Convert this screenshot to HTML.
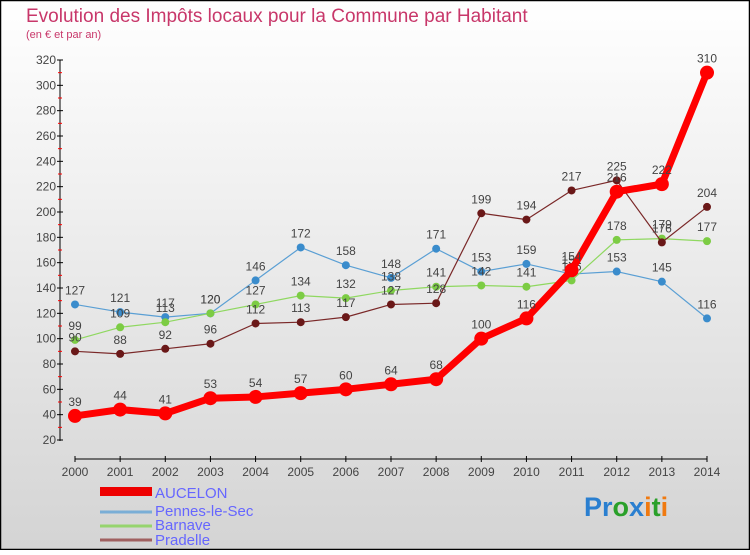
<!DOCTYPE html>
<html><head><meta charset="utf-8"><style>
html,body{margin:0;padding:0}
body{width:750px;height:550px;overflow:hidden;font-family:"Liberation Sans",sans-serif}
</style></head><body>
<svg id="chart" width="750" height="550" xmlns="http://www.w3.org/2000/svg">
<defs><linearGradient id="bg" x1="0" y1="0" x2="0" y2="1"><stop offset="0" stop-color="#ffffff"/><stop offset="1" stop-color="#d4d4d4"/></linearGradient></defs>
<rect x="0.5" y="0.5" width="749" height="549" fill="url(#bg)" stroke="#000" stroke-width="1.5"/>
<text x="26" y="22" font-size="19" fill="#c8376a">Evolution des Impôts locaux pour la Commune par Habitant</text>
<text x="26" y="38" font-size="11" fill="#c8376a">(en € et par an)</text>
<g id="axes"></g><g id="series"></g>
<g font-size="15" fill="#6666ff">
<rect x="100" y="487" width="52" height="9" fill="#ee0000"/>
<text x="155" y="498">AUCELON</text>
<line x1="100" y1="512" x2="152" y2="512" stroke="#7aaed6" stroke-width="3"/>
<text x="155" y="516">Pennes-le-Sec</text>
<line x1="100" y1="526" x2="152" y2="526" stroke="#96d46e" stroke-width="3"/>
<text x="155" y="530">Barnave</text>
<line x1="100" y1="540" x2="152" y2="540" stroke="#a06060" stroke-width="3"/>
<text x="155" y="545">Pradelle</text>
</g>
<g font-size="27" font-weight="bold" font-family="'Liberation Sans',sans-serif">
<text x="584" y="516"><tspan fill="#2a7fd0">Pr</tspan><tspan fill="#2aa02a">o</tspan><tspan fill="#2a7fd0">x</tspan><tspan fill="#f07a10">i</tspan><tspan fill="#2aa02a">t</tspan><tspan fill="#f07a10">i</tspan></text>
</g>
</svg>
<script>
const years=[2000,2001,2002,2003,2004,2005,2006,2007,2008,2009,2010,2011,2012,2013,2014];
const yTicks=[20,40,60,80,100,120,140,160,180,200,220,240,260,280,300,320];
const aucelon=[39,44,41,53,54,57,60,64,68,100,116,154,216,222,310];
const pennes=[127,121,117,120,146,172,158,148,171,153,159,151,153,145,116];
const barnave=[99,109,113,120,127,134,132,138,141,142,141,146,178,179,177];
const pradelle=[90,88,92,96,112,113,117,127,128,199,194,217,225,176,204];
const NS="http://www.w3.org/2000/svg";
function X(i){return 75+(707-75)*(years[i]-2000)/(2014-2000);}
function Y(v){return 440-(v-20)*(380/300);}
function mk(t,a,p){const e=document.createElementNS(NS,t);for(const k in a)e.setAttribute(k,a[k]);p.appendChild(e);return e;}
const ax=document.getElementById('axes');
mk('line',{x1:60,y1:60,x2:60,y2:441,stroke:'#000','stroke-width':1},ax);
mk('line',{x1:75,y1:459,x2:707,y2:459,stroke:'#000','stroke-width':1},ax);
yTicks.forEach(v=>{
 mk('line',{x1:57,y1:Y(v),x2:63,y2:Y(v),stroke:'#000'},ax);
 if(v<320)mk('line',{x1:58,y1:Y(v+10),x2:62,y2:Y(v+10),stroke:'#f00'},ax);
 const t=mk('text',{x:56,y:Y(v)+4,'text-anchor':'end','font-size':12,fill:'#444'},ax);
 
 
 t.textContent=v;
});
years.forEach((y,i)=>{
 mk('line',{x1:X(i),y1:456,x2:X(i),y2:462,stroke:'#000'},ax);
 const t=mk('text',{x:X(i),y:476,'text-anchor':'middle','font-size':12,fill:'#444'},ax);
 
 
 t.textContent=y;
});
const sg=document.getElementById('series');
function draw(name,data,color,dot,w,r){
 const g=mk('g',{},sg);
 
 
 mk('polyline',{points:data.map((v,i)=>X(i)+','+Y(v)).join(' '),fill:'none',stroke:color,'stroke-width':w,'stroke-linejoin':'round'},g);
 data.forEach((v,i)=>{
  const c=mk('circle',{cx:X(i),cy:Y(v),r:r,fill:dot},g);
  
  
  const t=mk('text',{x:X(i),y:Y(v)-10,'text-anchor':'middle','font-size':12,fill:'#444'},g);
  
  
  t.textContent=v;
 });
}
draw('pennes',pennes,'#5a9fd4','#3a8ccc',1.2,4);
draw('barnave',barnave,'#8fd860','#7ccc44',1.2,4);
draw('pradelle',pradelle,'#7a2828','#6a1818',1.2,4);
draw('aucelon',aucelon,'#ff0000','#ff0000',7,7);
</script>
</body></html>
